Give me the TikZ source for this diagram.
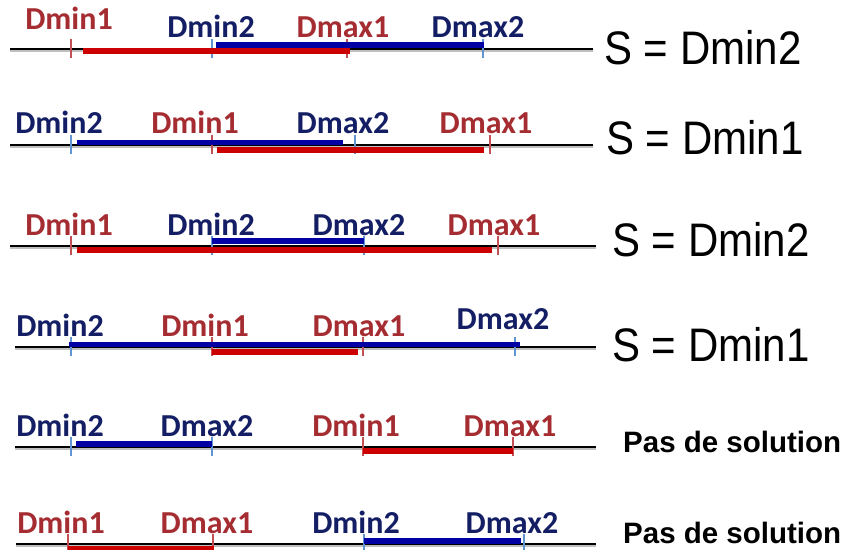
\documentclass[tikz,border=0pt]{standalone}
\usepackage{fontspec}
\setmainfont{Liberation Sans}
\newfontfamily\labfont{Carlito}
\definecolor{labred}{RGB}{165,45,50}
\definecolor{labblue}{RGB}{20,30,100}
\definecolor{barred}{RGB}{205,0,0}
\definecolor{barblue}{RGB}{0,0,165}
\definecolor{tickred}{RGB}{195,80,85}
\definecolor{tickblue}{RGB}{95,150,210}
\tikzset{
  axisline/.style={line width=2.6pt,black},
  axisshadow/.style={line width=2pt,black!25},
  rtick/.style={line width=2.8pt,tickred},
  btick/.style={line width=2.8pt,tickblue},
  rbar/.style={line width=5.5pt,barred},
  bbar/.style={line width=5.5pt,barblue},
  rlab/.style={anchor=base,inner sep=0pt,text=labred,font=\labfont\bfseries\fontsize{32}{32}\selectfont},
  blab/.style={anchor=base,inner sep=0pt,text=labblue,font=\labfont\bfseries\fontsize{32}{32}\selectfont},
  res/.style={anchor=west,inner sep=0pt,font=\fontsize{42}{42}\selectfont},
  nores/.style={anchor=west,inner sep=0pt,font=\bfseries\fontsize{29.5}{30}\selectfont},
}
\begin{document}
\begin{tikzpicture}[x=1pt,y=-1pt]
\useasboundingbox (0,0) rectangle (845,549);
% ---------- Row 1 ----------
\coordinate (aL) at (10,49); \coordinate (aR) at (593,49);
\draw[axisshadow] ([yshift=-1.8pt]aL) -- ([yshift=-1.8pt]aR);
\draw[axisline] (aL) -- (aR);
\coordinate (aT1) at (71,49); \coordinate (aT2) at (212,49);
\coordinate (aT3) at (347,49); \coordinate (aT4) at (483,49);
\draw[rtick] ([yshift=10pt]aT1) -- ([yshift=-9pt]aT1);
\draw[btick] ([yshift=10pt]aT2) -- ([yshift=-9pt]aT2);
\draw[rtick] ([yshift=10pt]aT3) -- ([yshift=-9pt]aT3);
\draw[btick] ([yshift=10pt]aT4) -- ([yshift=-9pt]aT4);
\draw[rbar] ([shift={(12,2)}]aT1) -- ([shift={(3,2)}]aT3);
\draw[bbar] ([shift={(4,-4)}]aT2) -- ([shift={(1,-4)}]aT4);
\node[rlab] (aD1) at (69,29) {Dmin1};
\node[blab] (aD2) at (211,37) {Dmin2};
\node[rlab] (aD3) at (343,37) {Dmax1};
\node[blab] (aD4) at (478,37) {Dmax2};
\node[res] (aS) at (604,48) {\scalebox{1}[1.12]{S = Dmin2}};
% ---------- Row 2 ----------
\coordinate (bL) at (10,145); \coordinate (bR) at (593,145);
\draw[axisshadow] ([yshift=-1.8pt]bL) -- ([yshift=-1.8pt]bR);
\draw[axisline] (bL) -- (bR);
\coordinate (bT1) at (71,145); \coordinate (bT2) at (212,145);
\coordinate (bT3) at (355,145); \coordinate (bT4) at (490,145);
\draw[btick] ([yshift=10pt]bT1) -- ([yshift=-9pt]bT1);
\draw[rtick] ([yshift=10pt]bT2) -- ([yshift=-9pt]bT2);
\draw[btick] ([yshift=10pt]bT3) -- ([yshift=-9pt]bT3);
\draw[rtick] ([yshift=10pt]bT4) -- ([yshift=-9pt]bT4);
\draw[bbar] ([shift={(6,-2.5)}]bT1) -- ([shift={(-12,-2.5)}]bT3);
\draw[rbar] ([shift={(5,5)}]bT2) -- ([shift={(-6,5)}]bT4);
\node[blab] (bD1) at (59,133) {Dmin2};
\node[rlab] (bD2) at (195,133) {Dmin1};
\node[blab] (bD3) at (343,133) {Dmax2};
\node[rlab] (bD4) at (486,133) {Dmax1};
\node[res] (bS) at (606,138) {\scalebox{1}[1.12]{S = Dmin1}};
% ---------- Row 3 ----------
\coordinate (cL) at (10,246); \coordinate (cR) at (596,246);
\draw[axisshadow] ([yshift=-1.8pt]cL) -- ([yshift=-1.8pt]cR);
\draw[axisline] (cL) -- (cR);
\coordinate (cT1) at (71,246); \coordinate (cT2) at (212,246);
\coordinate (cT3) at (364,246); \coordinate (cT4) at (498,246);
\draw[rtick] ([yshift=10pt]cT1) -- ([yshift=-9pt]cT1);
\draw[btick] ([yshift=10pt]cT2) -- ([yshift=-9pt]cT2);
\draw[btick] ([yshift=10pt]cT3) -- ([yshift=-9pt]cT3);
\draw[rtick] ([yshift=10pt]cT4) -- ([yshift=-9pt]cT4);
\draw[bbar] ([shift={(0,-5)}]cT2) -- ([shift={(0,-5)}]cT3);
\draw[rbar] ([shift={(6,4)}]cT1) -- ([shift={(-6,4)}]cT4);
\node[rlab] (cD1) at (69,235) {Dmin1};
\node[blab] (cD2) at (211,235) {Dmin2};
\node[blab] (cD3) at (359,235) {Dmax2};
\node[rlab] (cD4) at (494,235) {Dmax1};
\node[res] (cS) at (612,240) {\scalebox{1}[1.12]{S = Dmin2}};
% ---------- Row 4 ----------
\coordinate (dL) at (15,347); \coordinate (dR) at (596,347);
\draw[axisshadow] ([yshift=-1.8pt]dL) -- ([yshift=-1.8pt]dR);
\draw[axisline] (dL) -- (dR);
\coordinate (dT1) at (71,347); \coordinate (dT2) at (212,347);
\coordinate (dT3) at (363,347); \coordinate (dT4) at (515,347);
\draw[btick] ([yshift=10pt]dT1) -- ([yshift=-9pt]dT1);
\draw[rtick] ([yshift=10pt]dT2) -- ([yshift=-9pt]dT2);
\draw[rtick] ([yshift=10pt]dT3) -- ([yshift=-9pt]dT3);
\draw[btick] ([yshift=10pt]dT4) -- ([yshift=-9pt]dT4);
\draw[bbar] ([shift={(-2,-2.5)}]dT1) -- ([shift={(5,-2.5)}]dT4);
\draw[rbar] ([shift={(0,5)}]dT2) -- ([shift={(-5,5)}]dT3);
\node[blab] (dD1) at (60,336) {Dmin2};
\node[rlab] (dD2) at (205,336) {Dmin1};
\node[rlab] (dD3) at (359,336) {Dmax1};
\node[blab] (dD4) at (503,329) {Dmax2};
\node[res] (dS) at (612,345) {\scalebox{1}[1.12]{S = Dmin1}};
% ---------- Row 5 ----------
\coordinate (eL) at (15,447); \coordinate (eR) at (596,447);
\draw[axisshadow] ([yshift=-1.8pt]eL) -- ([yshift=-1.8pt]eR);
\draw[axisline] (eL) -- (eR);
\coordinate (eT1) at (71,447); \coordinate (eT2) at (212,447);
\coordinate (eT3) at (363,447); \coordinate (eT4) at (513,447);
\draw[btick] ([yshift=10pt]eT1) -- ([yshift=-9pt]eT1);
\draw[btick] ([yshift=10pt]eT2) -- ([yshift=-9pt]eT2);
\draw[rtick] ([yshift=10pt]eT3) -- ([yshift=-9pt]eT3);
\draw[rtick] ([yshift=10pt]eT4) -- ([yshift=-9pt]eT4);
\draw[bbar] ([shift={(5,-3)}]eT1) -- ([shift={(0,-3)}]eT2);
\draw[rbar] ([shift={(0,4)}]eT3) -- ([shift={(0,4)}]eT4);
\node[blab] (eD1) at (60,436) {Dmin2};
\node[blab] (eD2) at (207,436) {Dmax2};
\node[rlab] (eD3) at (356,436) {Dmin1};
\node[rlab] (eD4) at (510,436) {Dmax1};
\node[nores] (eS) at (623,442) {Pas de solution};
% ---------- Row 6 ----------
\coordinate (fL) at (16,544); \coordinate (fR) at (596,544);
\draw[axisshadow] ([yshift=-1.8pt]fL) -- ([yshift=-1.8pt]fR);
\draw[axisline] (fL) -- (fR);
\coordinate (fT1) at (68,544); \coordinate (fT2) at (213,544);
\coordinate (fT3) at (364,544); \coordinate (fT4) at (524,544);
\draw[rtick] ([yshift=10pt]fT1) -- ([yshift=-9pt]fT1);
\draw[rtick] ([yshift=10pt]fT2) -- ([yshift=-9pt]fT2);
\draw[btick] ([yshift=10pt]fT3) -- ([yshift=-9pt]fT3);
\draw[btick] ([yshift=10pt]fT4) -- ([yshift=-9pt]fT4);
\draw[rbar] ([shift={(0,5)}]fT1) -- ([shift={(1,5)}]fT2);
\draw[bbar] ([shift={(0,-3)}]fT3) -- ([shift={(-3,-3)}]fT4);
\node[rlab] (fD1) at (61,533) {Dmin1};
\node[rlab] (fD2) at (207,533) {Dmax1};
\node[blab] (fD3) at (356,533) {Dmin2};
\node[blab] (fD4) at (512,533) {Dmax2};
\node[nores] (fS) at (623,533) {Pas de solution};
\end{tikzpicture}
\end{document}
